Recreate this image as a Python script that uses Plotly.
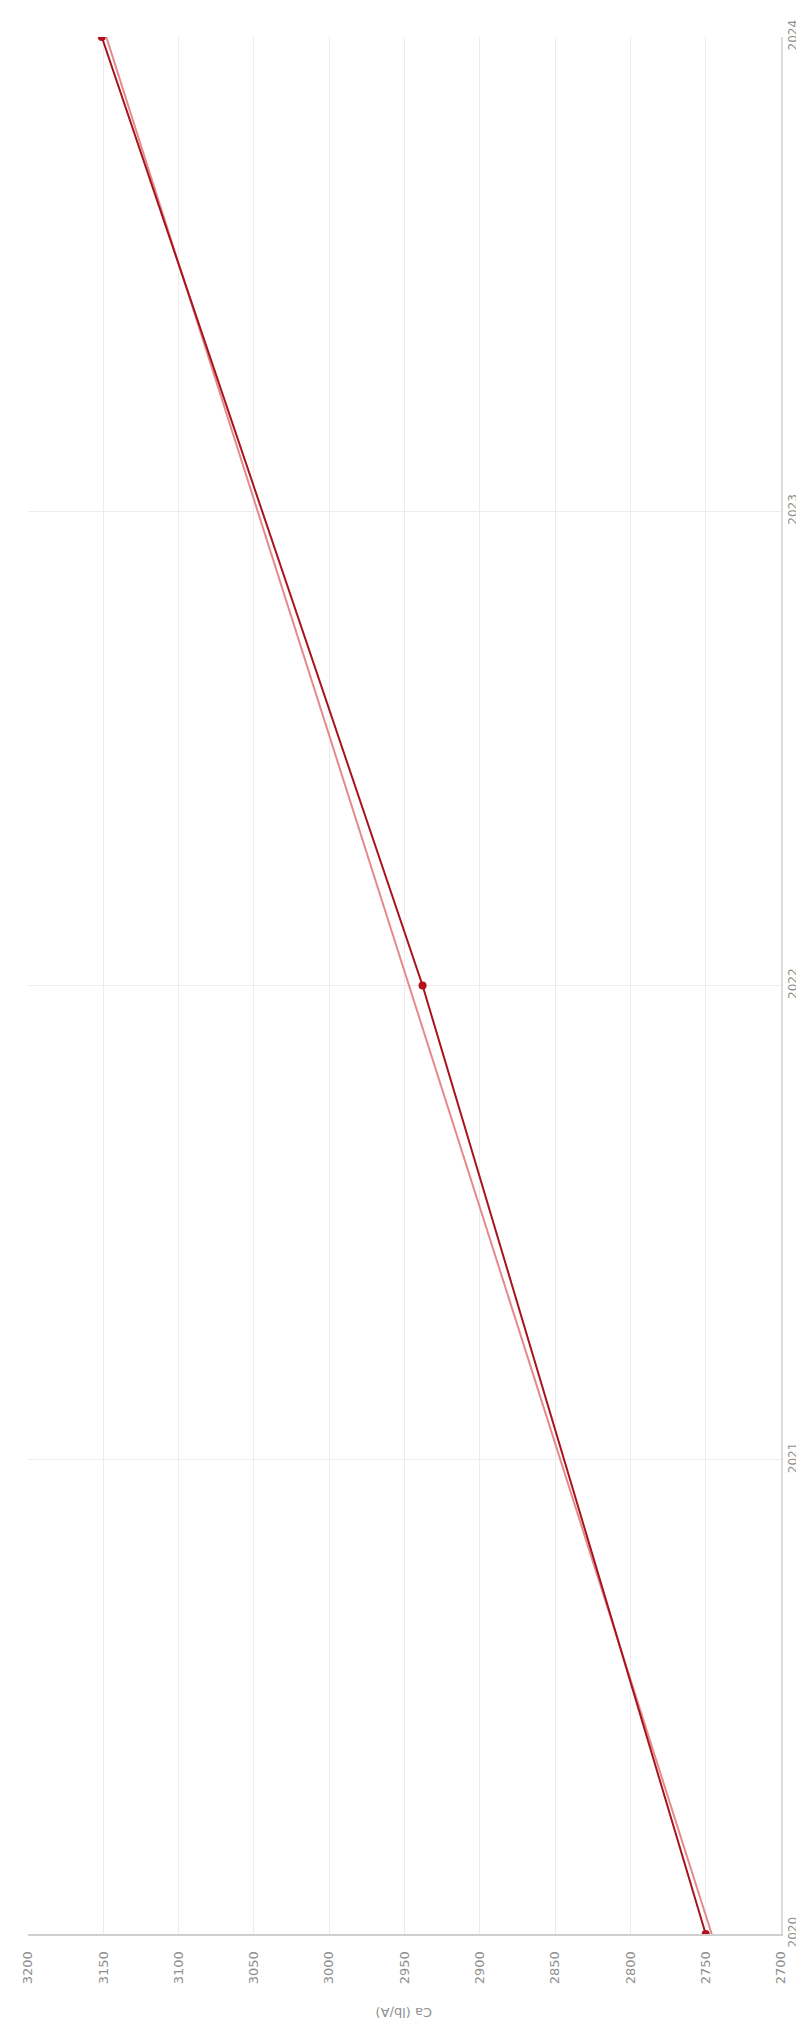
import plotly.graph_objects as go

# Ca (lb/A) by year, shown in a rotated layout
years = [2020, 2022, 2024]
ca_values = [2750, 2938, 3151]

trend_years = [2020, 2024]
trend_values = [2746, 3148]

ca_ticks = [3200, 3150, 3100, 3050, 3000, 2950, 2900, 2850, 2800, 2750, 2700]
year_ticks = [2020, 2021, 2022, 2023, 2024]

fig = go.Figure()

fig.add_trace(go.Scatter(x=trend_values, y=trend_years, mode='lines',
                         line=dict(color='#e58a8c', width=2),
                         hoverinfo='skip', showlegend=False))
fig.add_trace(go.Scatter(x=ca_values, y=years, mode='lines+markers',
                         line=dict(color='#a8141e', width=2),
                         marker=dict(color='#b3121c', size=8),
                         showlegend=False))

fig.update_layout(
    width=804,
    height=2018,
    margin=dict(l=16, r=25, t=18, b=92),
    paper_bgcolor='white',
    plot_bgcolor='white',
    font=dict(family='DejaVu Sans', size=13, color='#8f8f8f'),
    xaxis=dict(range=[3200, 2700], tickvals=ca_ticks, tickangle=-90,
               showgrid=True, gridcolor='#ececec', gridwidth=1,
               showline=True, linecolor='#cfcfcf', linewidth=2,
               zeroline=False, ticks='', ticklabelstandoff=10),
    yaxis=dict(range=[2020, 2024], tickvals=year_ticks, side='right',
               tickangle=-90, showgrid=True, gridcolor='#ececec', gridwidth=1,
               showline=True, linecolor='#dcdcdc', linewidth=2,
               zeroline=False, ticks='', tickfont=dict(size=12)),
    annotations=[dict(text='Ca (lb/A)', x=0.5, xref='paper', y=-0.041,
                      yref='paper', yanchor='middle', showarrow=False,
                      textangle=180, font=dict(size=13, color='#8f8f8f'))],
)

fig.write_html("out.html")
